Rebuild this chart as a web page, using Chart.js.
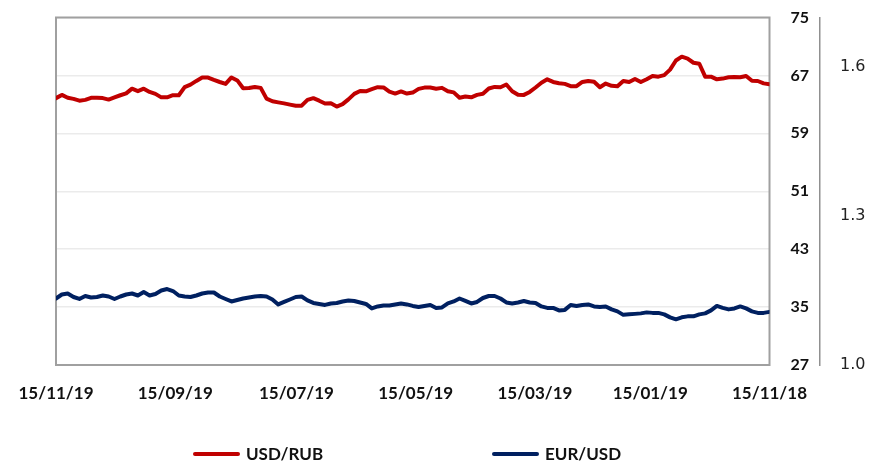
<!DOCTYPE html>
<html>
<head>
<meta charset="utf-8">
<script src="https://cdn.jsdelivr.net/npm/chart.js@4.4.1/dist/chart.umd.min.js"></script>
<style>
  html, body { margin: 0; padding: 0; background: #fff; }
  #wrap { position: relative; width: 870px; height: 473px; }
  #c { position: absolute; left: 0; top: 0; }
  .leg { position: absolute; top: 443px; display: flex; align-items: center; font-family: Lato, "Noto Sans", sans-serif; font-weight: bold; font-size: 17px; color: #111; }
  .leg .ln { width: 47px; height: 4px; border-radius: 2px; margin-right: 6px; }
</style>
</head>
<body>
<div id="wrap">
  <canvas id="c" width="870" height="473"></canvas>
</div>
<script>
// ---- data ----
const seriesNames = ['USD/RUB', 'EUR/USD'];
const seriesColors = ['#c00000', '#002060'];
const tickLabels = ['15/11/19', '15/09/19', '15/07/19', '15/05/19', '15/03/19', '15/01/19', '15/11/18'];
const rubTicks = [27, 35, 43, 51, 59, 67, 75];
const eurTicks = [1.0, 1.3, 1.6];
const eurRange = [1.0, 1.7];

const usdRub = [
  63.86, 64.31, 63.92, 63.76, 63.51, 63.62, 63.90, 63.92, 63.87, 63.66,
  63.97, 64.26, 64.52, 65.17, 64.83, 65.17, 64.72, 64.45, 63.97, 63.98,
  64.27, 64.26, 65.39, 65.73, 66.24, 66.70, 66.70, 66.38, 66.09, 65.83,
  66.72, 66.31, 65.23, 65.25, 65.41, 65.28, 63.79, 63.43, 63.28, 63.14,
  62.97, 62.81, 62.82, 63.62, 63.86, 63.51, 63.11, 63.14, 62.70, 63.03,
  63.69, 64.45, 64.86, 64.81, 65.11, 65.37, 65.34, 64.75, 64.49, 64.79,
  64.49, 64.63, 65.14, 65.32, 65.32, 65.17, 65.28, 64.81, 64.66, 63.91,
  64.08, 63.97, 64.31, 64.46, 65.19, 65.41, 65.37, 65.74, 64.82, 64.32,
  64.31, 64.72, 65.33, 65.99, 66.46, 66.10, 65.92, 65.83, 65.52, 65.51,
  66.10, 66.24, 66.13, 65.37, 65.88, 65.57, 65.50, 66.24, 66.09, 66.52,
  66.09, 66.48, 66.93, 66.83, 67.04, 67.80, 69.06, 69.59, 69.32, 68.75,
  68.61, 66.83, 66.83, 66.46, 66.56, 66.75, 66.79, 66.75, 66.93, 66.26,
  66.23, 65.90, 65.79
];

const eurUsd = [
  1.134, 1.142, 1.144, 1.137, 1.133, 1.139, 1.136, 1.137, 1.140, 1.138,
  1.133, 1.138, 1.142, 1.144, 1.140, 1.147, 1.140, 1.143, 1.150, 1.153,
  1.149, 1.140, 1.138, 1.137, 1.140, 1.144, 1.146, 1.146, 1.138, 1.133,
  1.128, 1.131, 1.134, 1.136, 1.138, 1.139, 1.138, 1.132, 1.122, 1.127,
  1.132, 1.137, 1.138, 1.130, 1.125, 1.123, 1.121, 1.124, 1.125, 1.128,
  1.130, 1.129, 1.126, 1.123, 1.114, 1.118, 1.120, 1.120, 1.122, 1.124,
  1.122, 1.119, 1.117, 1.119, 1.121, 1.115, 1.116, 1.124, 1.128, 1.134,
  1.129, 1.124, 1.127, 1.135, 1.139, 1.139, 1.134, 1.126, 1.124, 1.126,
  1.129, 1.126, 1.125, 1.118, 1.115, 1.115, 1.110, 1.111, 1.121, 1.119,
  1.121, 1.122, 1.118, 1.117, 1.118, 1.112, 1.108, 1.101, 1.102, 1.103,
  1.104, 1.106, 1.105, 1.105, 1.102, 1.096, 1.092, 1.096, 1.098, 1.098,
  1.102, 1.104, 1.110, 1.119, 1.115, 1.112, 1.114, 1.118, 1.114, 1.108,
  1.105, 1.105, 1.107
];

// ---- derived x positions (days back from the first date label) ----
function parseDMY(s) { const [d, m, y] = s.split('/').map(Number); return Date.UTC(2000 + y, m - 1, d); }
const t0 = parseDMY(tickLabels[0]);
const tickDays = tickLabels.map(s => Math.round((t0 - parseDMY(s)) / 864e5));
const span = tickDays[tickDays.length - 1];
function toPoints(arr) { return arr.map((v, i) => ({ x: i * span / (arr.length - 1), y: v })); }

// ---- legend (HTML text) ----
const legendLefts = [193, 492];
seriesNames.forEach((name, i) => {
  const d = document.createElement('div');
  d.className = 'leg';
  d.style.left = legendLefts[i] + 'px';
  d.innerHTML = '<span class="ln" style="background:' + seriesColors[i] + '"></span><span>' + name + '</span>';
  document.getElementById('wrap').appendChild(d);
});

const framePlugin = {
  id: 'frame',
  beforeDatasetsDraw(chart) {
    const { ctx, chartArea: a } = chart;
    ctx.save();
    ctx.strokeStyle = '#a0a0a0';
    ctx.lineWidth = 2;
    ctx.strokeRect(a.left, a.top, a.right - a.left, a.bottom - a.top);
    ctx.restore();
  }
};

Chart.defaults.font.family = 'Lato, "Noto Sans", sans-serif';

new Chart(document.getElementById('c'), {
  type: 'line',
  data: {
    datasets: [
      { label: seriesNames[0], data: toPoints(usdRub), yAxisID: 'y', borderColor: seriesColors[0], borderWidth: 4, pointRadius: 0, tension: 0, borderJoinStyle: 'round', borderCapStyle: 'round' },
      { label: seriesNames[1], data: toPoints(eurUsd), yAxisID: 'y2', borderColor: seriesColors[1], borderWidth: 4, pointRadius: 0, tension: 0, borderJoinStyle: 'round', borderCapStyle: 'round' }
    ]
  },
  options: {
    responsive: false,
    animation: false,
    devicePixelRatio: 1,
    layout: { padding: { left: 56, top: 17.5, right: 0, bottom: 63 } },
    plugins: { legend: { display: false }, tooltip: { enabled: false } },
    scales: {
      x: {
        type: 'linear', min: 0, max: span,
        grid: { display: false }, border: { display: false },
        afterBuildTicks: s => { s.ticks = tickDays.map(v => ({ value: v })); },
        afterFit: s => { s.height = 45; },
        ticks: {
          autoSkip: false, maxRotation: 0, padding: 10, color: '#111',
          font: { size: 17, weight: 'bold' },
          callback: (v, i) => tickLabels[i]
        }
      },
      y: {
        position: 'right', min: rubTicks[0], max: rubTicks[rubTicks.length - 1],
        afterBuildTicks: s => { s.ticks = rubTicks.map(v => ({ value: v })); },
        afterFit: s => { s.width = 50.5; },
        grid: { color: '#ebebeb', lineWidth: 1.5, drawTicks: true, tickLength: 19, tickColor: 'rgba(0,0,0,0)' },
        border: { display: false },
        ticks: { padding: 2, color: '#111', font: { size: 16, weight: 'bold' } }
      },
      y2: {
        position: 'right', min: eurRange[0], max: eurRange[1],
        afterBuildTicks: s => { s.ticks = eurTicks.map(v => ({ value: v })); },
        afterFit: s => { s.width = 50; },
        grid: { display: true, drawOnChartArea: false, drawTicks: true, tickLength: 18, tickColor: 'rgba(0,0,0,0)' },
        border: { display: true, color: '#909090', width: 1.5 },
        ticks: { padding: 2, color: '#222', font: { family: '"DejaVu Sans", sans-serif', size: 16 }, callback: v => Number(v).toFixed(1) }
      }
    }
  },
  plugins: [framePlugin]
});
</script>
</body>
</html>
